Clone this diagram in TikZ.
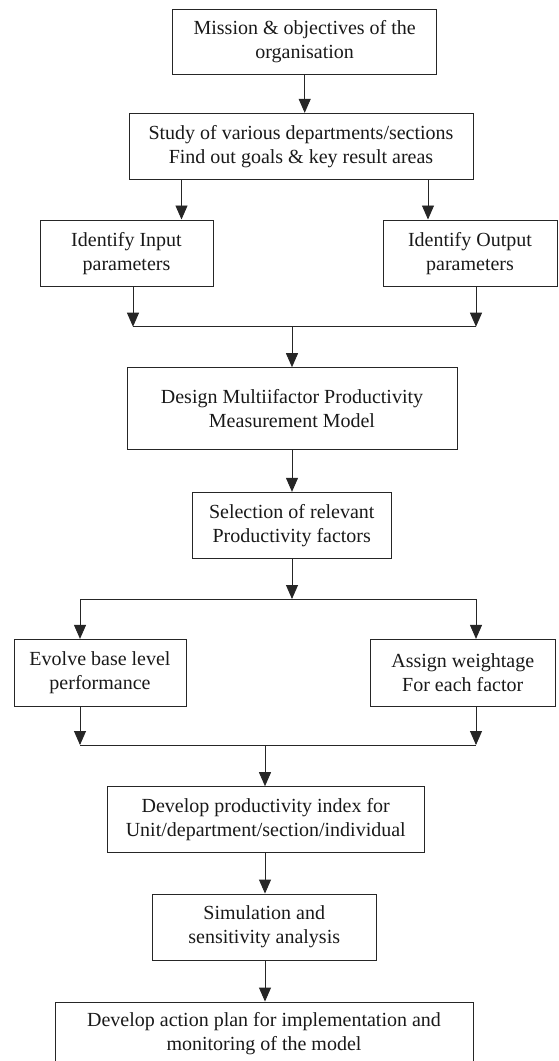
\documentclass[tikz,border=0pt]{standalone}
\usepackage{fontspec}
\setmainfont{Liberation Serif}
\usetikzlibrary{arrows.meta}
\begin{document}
\begin{tikzpicture}[x=1pt,y=-1pt,
  line/.style={draw=black!85,line width=0.9pt},
  box/.style={draw=black!85,line width=0.9pt,rectangle,inner sep=0pt,align=center,
    font=\fontsize{20}{24}\selectfont,text=black!90},
  arr/.style={line,-{Triangle[width=12pt,length=14pt]}}]
\useasboundingbox (0,0) rectangle (558,1061);
\clip (0,0) rectangle (558,1061);
\node[box,minimum width=264pt,minimum height=64.7pt] (b1) at (304.7,41.7) {Mission \& objectives of the\\organisation};
\node[box,minimum width=344pt,minimum height=66pt] (b2) at (301,146.3) {Study of various departments/sections\\Find out goals \& key result areas};
\node[box,minimum width=173pt,minimum height=66.7pt] (b3) at (126.5,253.3) {Identify Input\\parameters};
\node[box,minimum width=174pt,minimum height=66.7pt] (b4) at (470,253.3) {Identify Output\\parameters};
\node[box,minimum width=330pt,minimum height=81.7pt] (b5) at (292,408.5) {Design Multiifactor Productivity\\Measurement Model};
\node[box,minimum width=198.5pt,minimum height=66pt] (b6) at (291.75,525.3) {Selection of relevant\\Productivity factors};
\node[box,minimum width=172pt,minimum height=66.7pt] (b7) at (100,672.7) {Evolve base level\\performance};
\node[box,minimum width=184.5pt,minimum height=66.7pt] (b8) at (462.75,672.7) {Assign weightage\\For each factor};
\node[box,minimum width=316.5pt,minimum height=65.3pt] (b9) at (265.75,819.3) {Develop productivity index for\\Unit/department/section/individual};
\node[box,minimum width=224.5pt,minimum height=66pt] (b10) at (264.25,927) {Simulation and\\sensitivity analysis};
\node[box,minimum width=418pt,minimum height=64pt] (b11) at (264,1034) {Develop action plan for implementation and\\monitoring of the model};
% junction coordinates
\coordinate (jA) at (133,326.7);
\coordinate (jB) at (476,326.7);
\coordinate (jC) at (292,326.7);
\coordinate (jD) at (80,599);
\coordinate (jE) at (476,599);
\coordinate (jF) at (292,599);
\coordinate (jG) at (80,745);
\coordinate (jH) at (476,745);
\coordinate (jI) at (265,745);
\coordinate (s2a) at (181.5,0);
\coordinate (s2b) at (428,0);
\draw[arr] (b1.south) -- (b1.south |- b2.north);
\draw[arr] (s2a |- b2.south) -- (s2a |- b3.north);
\draw[arr] (s2b |- b2.south) -- (s2b |- b4.north);
\draw[arr] (jA |- b3.south) -- (jA);
\draw[arr] (jB |- b4.south) -- (jB);
\draw[line] (jA) -- (jB);
\draw[arr] (jC) -- (jC |- b5.north);
\draw[arr] (b5.south) -- (b5.south |- b6.north);
\draw[arr] (jF |- b6.south) -- (jF);
\draw[line] (jD) -- (jE);
\draw[arr] (jD) -- (jD |- b7.north);
\draw[arr] (jE) -- (jE |- b8.north);
\draw[arr] (jG |- b7.south) -- (jG);
\draw[arr] (jH |- b8.south) -- (jH);
\draw[line] (jG) -- (jH);
\draw[arr] (jI) -- (jI |- b9.north);
\draw[arr] (jI |- b9.south) -- (jI |- b10.north);
\draw[arr] (jI |- b10.south) -- (jI |- b11.north);
\end{tikzpicture}
\end{document}
